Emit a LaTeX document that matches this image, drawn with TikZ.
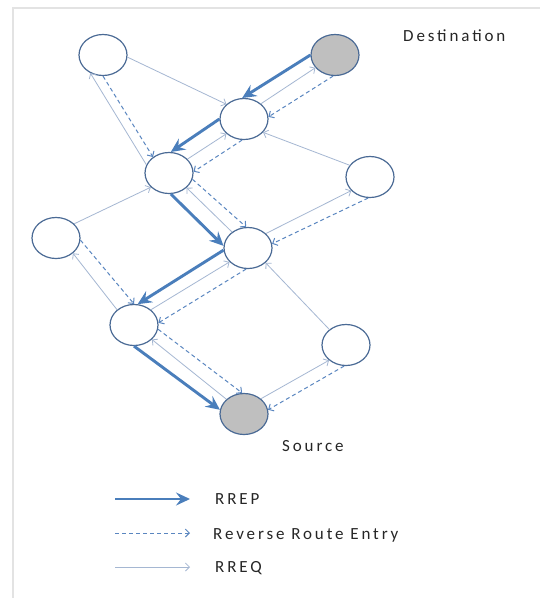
\documentclass[tikz,border=0pt]{standalone}
\usepackage{fontspec}
\setmainfont{Carlito}
\newfontfamily\lblfont[LetterSpace=17]{Carlito}
\usetikzlibrary{arrows.meta,shapes.geometric}
\definecolor{rrepc}{HTML}{4A7EBB}
\definecolor{rreqc}{HTML}{A5B7D2}
\definecolor{revc}{HTML}{5A86C0}
\definecolor{nodec}{HTML}{4A6A95}
\definecolor{grayfill}{HTML}{BFBFBF}
\definecolor{framec}{HTML}{E3E3E3}
\definecolor{txtc}{HTML}{262626}
\begin{document}
\begin{tikzpicture}[x=1pt,y=-1pt,
 netnode/.style={ellipse,draw=nodec,line width=1.2pt,fill=white,minimum width=48pt,minimum height=41pt,inner sep=0pt},
 endnode/.style={netnode,fill=grayfill},
 rrep/.style={draw=rrepc,line width=2.9pt,-{Stealth[length=14pt,width=13pt,inset=5pt]}},
 rreq/.style={draw=rreqc,line width=0.8pt,-{Straight Barb[length=4pt,width=8pt]}},
 rev/.style={draw=revc,line width=1pt,dash pattern=on 4pt off 3pt,-{Straight Barb[length=4pt,width=8pt]}},
 lbl/.style={font=\lblfont\fontsize{17}{20}\selectfont,text=txtc,inner sep=0pt,anchor=base west}]
\fill[white] (0,0) rectangle (540,598);
\useasboundingbox (0,0) rectangle (540,598);
\draw[framec,line width=1.5pt] (13,598) -- (13,8) -- (540,8);
% nodes
\node[netnode] (A) at (103,55) {};
\node[endnode] (D) at (335,55) {};
\node[netnode] (B) at (244,119) {};
\node[netnode] (C) at (169,173) {};
\node[netnode] (E) at (370,177) {};
\node[netnode] (F) at (56,238) {};
\node[netnode] (G) at (248,248) {};
\node[netnode] (H) at (134,325) {};
\node[netnode] (I) at (346,345) {};
\node[endnode] (S) at (244,414) {};
% RREQ
\draw[rreq] (A.355) -- (B.140);
\draw[rreq] (B.42) -- (D.213);
\draw[rreq] (C.160) -- (A.235);
\draw[rreq] (C.37) -- (B.220);
\draw[rreq] (E.150) -- (B.325);
\draw[rreq] (F.38) -- (C.218);
\draw[rreq] (G.135) -- (C.320);
\draw[rreq] (G.39) -- (E.216);
\draw[rreq] (H.138) -- (F.318);
\draw[rreq] (H.42) -- (G.217);
\draw[rreq] (I.137) -- (G.320);
\draw[rreq] (S.140) -- (H.321);
\draw[rreq] (S.42) -- (I.222);
% reverse route entries
\draw[rev] (D.265) -- (B.5);
\draw[rev] (B.265) -- (C.3);
\draw[rev] (A.270) -- (C.135);
\draw[rev] (C.345) -- (G.95);
\draw[rev] (E.265) -- (G.10);
\draw[rev] (F.355) -- (H.90);
\draw[rev] (G.265) -- (H.5);
\draw[rev] (H.350) -- (S.95);
\draw[rev] (I.265) -- (S.10);
% RREP
\draw[rrep] (D.west) -- (B.95);
\draw[rrep] (B.west) -- (C.85);
\draw[rrep] (C.275) -- (G.175);
\draw[rrep] (G.185) -- (H.80);
\draw[rrep] (H.270) -- (S.170);
% labels
\node[lbl] (dest) at (403,41) {Destination};
\node[lbl] (src) at (282,451) {Source};
% legend
\coordinate (k1a) at (115,499); \coordinate (k1b) at (190,499);
\coordinate (k2a) at (115,533); \coordinate (k2b) at (190,533);
\coordinate (k3a) at (115,567); \coordinate (k3b) at (190,567);
\draw[rrep] (k1a) -- (k1b);
\draw[rev] (k2a) -- (k2b);
\draw[rreq] (k3a) -- (k3b);
\node[lbl] (t1) at (215,504) {RREP};
\node[lbl] (t2) at (213,539) {Reverse Route Entry};
\node[lbl] (t3) at (215,572) {RREQ};
\end{tikzpicture}
\end{document}
